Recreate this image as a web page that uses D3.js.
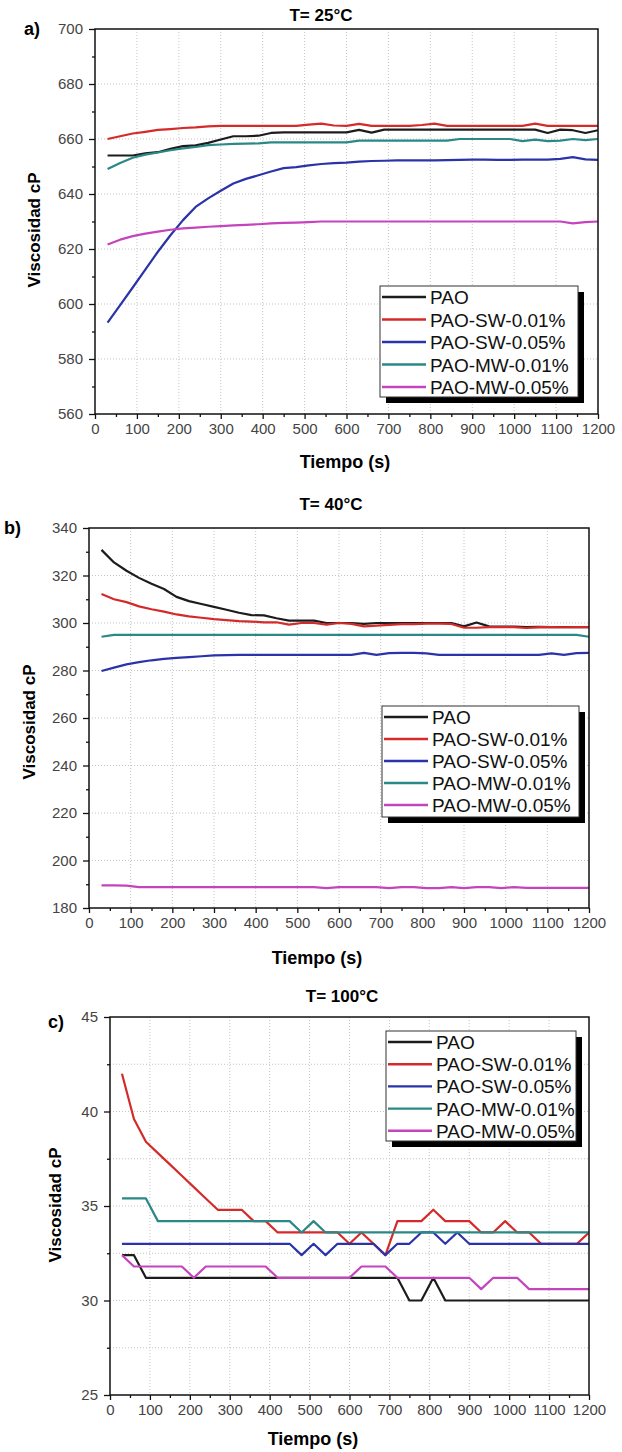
<!DOCTYPE html>
<html>
<head>
<meta charset="utf-8">
<script src="https://cdn.jsdelivr.net/npm/d3@7"></script>
<style>
  html, body { margin: 0; padding: 0; background: #fff; }
  svg { display: block; font-family: "Liberation Sans", Arial, sans-serif; }
</style>
</head>
<body>
<svg id="chart" width="622" height="1452"></svg>
<script>
// tiempo (s), muestreo cada 30 s
const tiempo = [30, 60, 90, 120, 150, 180, 210, 240, 270, 300,
  330, 360, 390, 420, 450, 480, 510, 540, 570, 600,
  630, 660, 690, 720, 750, 780, 810, 840, 870, 900,
  930, 960, 990, 1020, 1050, 1080, 1110, 1140, 1170, 1200];

const seriesNames = ['PAO', 'PAO-SW-0.01%', 'PAO-SW-0.05%', 'PAO-MW-0.01%', 'PAO-MW-0.05%'];
const seriesColors = ['#1c1c1c', '#d42a2a', '#2a33a8', '#2a8886', '#c444be'];
const xTicks = [0, 100, 200, 300, 400, 500, 600, 700, 800, 900, 1000, 1100, 1200];

// a) T = 25°C
const paoA = [654, 654, 654, 654.8, 655.2, 656.4, 657.4, 657.7, 658.6, 659.8,
  661, 661, 661.2, 662.2, 662.4, 662.4, 662.4, 662.4, 662.4, 662.4,
  663.3, 662.3, 663.4, 663.4, 663.4, 663.4, 663.4, 663.4, 663.4, 663.4,
  663.4, 663.4, 663.4, 663.4, 663.4, 662.2, 663.4, 663.2, 662.2, 663.2];
const sw01A = [660, 661, 662, 662.6, 663.3, 663.6, 664, 664.2, 664.6, 664.8,
  664.8, 664.8, 664.8, 664.8, 664.8, 664.8, 665.2, 665.6, 664.9, 664.8,
  665.5, 664.8, 664.8, 664.8, 664.8, 665.1, 665.6, 664.8, 664.8, 664.8,
  664.8, 664.8, 664.8, 664.8, 665.6, 664.8, 664.8, 664.8, 664.8, 664.8];
const sw05A = [593.2, 599.6, 606, 612.5, 619, 625, 630.5, 635.3, 638.4, 641.2,
  643.8, 645.5, 646.8, 648.2, 649.4, 649.8, 650.4, 650.9, 651.2, 651.4,
  651.8, 652, 652.1, 652.2, 652.2, 652.2, 652.2, 652.3, 652.4, 652.5,
  652.5, 652.4, 652.4, 652.5, 652.5, 652.5, 652.8, 653.4, 652.6, 652.4];
const mw01A = [649.1, 651.3, 653.2, 654.3, 655.1, 655.9, 656.6, 657.1, 657.8, 658,
  658.2, 658.3, 658.4, 658.8, 658.8, 658.8, 658.8, 658.8, 658.8, 658.8,
  659.4, 659.4, 659.4, 659.4, 659.4, 659.4, 659.4, 659.4, 660, 660,
  660, 660, 660, 659.2, 659.8, 659.2, 659.4, 660, 659.6, 660];
const mw05A = [621.6, 623.4, 624.7, 625.6, 626.3, 627, 627.5, 627.8, 628.1, 628.3,
  628.6, 628.8, 629, 629.3, 629.5, 629.6, 629.8, 630, 630, 630,
  630, 630, 630, 630, 630, 630, 630, 630, 630, 630,
  630, 630, 630, 630, 630, 630, 630, 629.3, 629.8, 630];
const yTicksA = [560, 580, 600, 620, 640, 660, 680, 700];

// b) T = 40°C
const paoB = [330.8, 325.5, 322, 319, 316.5, 314.3, 311, 309.2, 308, 306.8,
  305.6, 304.3, 303.3, 303.2, 302, 301, 301, 301, 300, 300,
  300, 299.6, 300, 300, 300, 300, 300, 300, 300, 298.6,
  300.2, 298.6, 298.5, 298.5, 298.3, 298.4, 298.3, 298.3, 298.3, 298.3];
const sw01B = [312.2, 310, 308.8, 307, 305.8, 304.8, 303.6, 302.8, 302.2, 301.6,
  301.2, 300.8, 300.6, 300.3, 300.3, 299.3, 300, 300, 299.3, 300,
  299.6, 298.6, 298.9, 299.2, 299.5, 299.5, 299.7, 299.7, 299.6, 298,
  298, 298.3, 298.3, 298.3, 297.9, 298.3, 298.3, 298.2, 298.3, 298.3];
const sw05B = [279.8, 281.2, 282.6, 283.5, 284.3, 284.9, 285.3, 285.6, 286, 286.4,
  286.5, 286.6, 286.6, 286.6, 286.6, 286.6, 286.6, 286.6, 286.6, 286.6,
  286.6, 287.4, 286.6, 287.3, 287.4, 287.4, 287.2, 286.6, 286.6, 286.6,
  286.6, 286.6, 286.6, 286.6, 286.6, 286.6, 287.2, 286.6, 287.3, 287.4];
const mw01B = [294.2, 295, 295, 295, 295, 295, 295, 295, 295, 295,
  295, 295, 295, 295, 295, 295, 295, 295, 295, 295,
  295, 295, 295, 295, 295, 295, 295, 295, 295, 295,
  295, 295, 295, 295, 295, 295, 295, 295, 295, 294.2];
const mw05B = [189.5, 189.5, 189.4, 188.8, 188.8, 188.8, 188.8, 188.8, 188.8, 188.8,
  188.8, 188.8, 188.8, 188.8, 188.8, 188.8, 188.8, 188.8, 188.4, 188.8,
  188.8, 188.8, 188.8, 188.4, 188.8, 188.8, 188.4, 188.4, 188.8, 188.4,
  188.8, 188.8, 188.4, 188.8, 188.5, 188.5, 188.5, 188.5, 188.5, 188.5];
const yTicksB = [180, 200, 220, 240, 260, 280, 300, 320, 340];

// c) T = 100°C
const paoC = [32.4, 32.4, 31.2, 31.2, 31.2, 31.2, 31.2, 31.2, 31.2, 31.2,
  31.2, 31.2, 31.2, 31.2, 31.2, 31.2, 31.2, 31.2, 31.2, 31.2,
  31.2, 31.2, 31.2, 31.2, 30, 30, 31.2, 30, 30, 30,
  30, 30, 30, 30, 30, 30, 30, 30, 30, 30];
const sw01C = [42, 39.6, 38.4, 37.8, 37.2, 36.6, 36, 35.4, 34.8, 34.8,
  34.8, 34.2, 34.2, 33.6, 33.6, 33.6, 33.6, 33.6, 33.6, 33,
  33.6, 33, 32.4, 34.2, 34.2, 34.2, 34.8, 34.2, 34.2, 34.2,
  33.6, 33.6, 34.2, 33.6, 33.6, 33, 33, 33, 33, 33.6];
const sw05C = [33, 33, 33, 33, 33, 33, 33, 33, 33, 33,
  33, 33, 33, 33, 33, 32.4, 33, 32.4, 33, 33,
  33, 33, 32.4, 33, 33, 33.6, 33.6, 33, 33.6, 33,
  33, 33, 33, 33, 33, 33, 33, 33, 33, 33];
const mw01C = [35.4, 35.4, 35.4, 34.2, 34.2, 34.2, 34.2, 34.2, 34.2, 34.2,
  34.2, 34.2, 34.2, 34.2, 34.2, 33.6, 34.2, 33.6, 33.6, 33.6,
  33.6, 33.6, 33.6, 33.6, 33.6, 33.6, 33.6, 33.6, 33.6, 33.6,
  33.6, 33.6, 33.6, 33.6, 33.6, 33.6, 33.6, 33.6, 33.6, 33.6];
const mw05C = [32.4, 31.8, 31.8, 31.8, 31.8, 31.8, 31.2, 31.8, 31.8, 31.8,
  31.8, 31.8, 31.8, 31.2, 31.2, 31.2, 31.2, 31.2, 31.2, 31.2,
  31.8, 31.8, 31.8, 31.2, 31.2, 31.2, 31.2, 31.2, 31.2, 31.2,
  30.6, 31.2, 31.2, 31.2, 30.6, 30.6, 30.6, 30.6, 30.6, 30.6];
const yTicksC = [25, 30, 35, 40, 45];

const svg = d3.select('#chart');
svg.append('rect').attr('width', 622).attr('height', 1452).attr('fill', '#fff');

// one panel
const drawPanel = (p) => {
    const x = d3.scaleLinear().domain([0, 1200]).range([p.left, p.right]);
    const y = d3.scaleLinear().domain([p.yTicks[0], p.yTicks[p.yTicks.length - 1]]).range([p.bottom, p.top]);
    const g = svg.append('g');

    // rejilla punteada
    const grid = g.append('g').attr('stroke', '#c4c4c4').attr('stroke-width', 1).attr('stroke-dasharray', '1,2');
    xTicks.slice(1, -1).forEach((t) => {
        grid.append('line').attr('x1', x(t)).attr('x2', x(t)).attr('y1', p.top).attr('y2', p.bottom);
    });
    p.yGrid.forEach((t) => {
        grid.append('line').attr('x1', p.left).attr('x2', p.right).attr('y1', y(t)).attr('y2', y(t));
    });

    // curvas
    const clipId = 'clip-' + p.id;
    g.append('clipPath').attr('id', clipId)
        .append('rect').attr('x', p.left).attr('y', p.top)
        .attr('width', p.right - p.left).attr('height', p.bottom - p.top);
    const line = d3.line().x((d, i) => x(tiempo[i])).y((d) => y(d));
    g.append('g').attr('clip-path', 'url(#' + clipId + ')')
        .selectAll('path').data(p.series).join('path')
        .attr('d', (d) => line(d))
        .attr('fill', 'none')
        .attr('stroke', (d, i) => seriesColors[i])
        .attr('stroke-width', 2.2)
        .attr('stroke-linejoin', 'round');

    // ejes
    const xAxis = g.append('g').attr('transform', 'translate(0,' + p.bottom + ')')
        .call(d3.axisBottom(x).tickValues(xTicks).tickFormat(d3.format('d'))
            .tickSize(5).tickPadding(4).tickSizeOuter(0));
    g.append('g').attr('transform', 'translate(0,' + p.bottom + ')')
        .call(d3.axisBottom(x).tickValues(xTicks.slice(0, -1).map((t) => t + 50)).tickSize(3).tickFormat('').tickSizeOuter(0));
    const yAxis = g.append('g').attr('transform', 'translate(' + p.left + ',0)')
        .call(d3.axisLeft(y).tickValues(p.yTicks).tickFormat(d3.format('d'))
            .tickSize(6).tickPadding(6).tickSizeOuter(0));
    g.append('g').attr('transform', 'translate(' + p.left + ',0)')
        .call(d3.axisLeft(y).tickValues(p.yMinor).tickSize(3).tickFormat('').tickSizeOuter(0));
    g.selectAll('.domain').remove();
    g.selectAll('.tick line').attr('stroke', '#111').attr('stroke-width', 1.3);
    [xAxis, yAxis].forEach((a) => a.selectAll('text')
        .attr('fill', '#444').style('font-size', '15px').style('font-family', '"Liberation Sans", Arial, sans-serif'));

    g.append('rect').attr('x', p.left).attr('y', p.top)
        .attr('width', p.right - p.left).attr('height', p.bottom - p.top)
        .attr('fill', 'none').attr('stroke', '#111').attr('stroke-width', 1.5);

    // textos
    g.append('text').attr('x', p.titleX).attr('y', p.titleY).attr('text-anchor', 'middle')
        .attr('font-weight', 'bold').attr('font-size', 17).text(p.title);
    g.append('text').attr('x', p.tagX).attr('y', p.tagY)
        .attr('font-weight', 'bold').attr('font-size', 18).text(p.tag);
    g.append('text').attr('x', p.xLabelX).attr('y', p.xLabelY).attr('text-anchor', 'middle')
        .attr('font-weight', 'bold').attr('font-size', 18).text('Tiempo (s)');
    g.append('text').attr('transform', 'translate(' + p.yLabelX + ',' + p.yLabelY + ') rotate(-90)')
        .attr('text-anchor', 'middle').attr('font-weight', 'bold').attr('font-size', 17).text('Viscosidad cP');

    // leyenda
    const lg = g.append('g').attr('transform', 'translate(' + p.legX + ',' + p.legY + ')');
    lg.append('rect').attr('x', 6).attr('y', 6).attr('width', p.legW).attr('height', p.legH).attr('fill', '#000');
    lg.append('rect').attr('width', p.legW).attr('height', p.legH).attr('fill', '#fff')
        .attr('stroke', '#333').attr('stroke-width', 1);
    const rows = lg.selectAll('g.row').data(seriesNames).join('g').attr('class', 'row')
        .attr('transform', (d, i) => 'translate(0,' + (11 + i * p.legStep) + ')');
    rows.append('line').attr('x1', 2).attr('x2', 46).attr('y1', 0).attr('y2', 0)
        .attr('stroke', (d, i) => seriesColors[i]).attr('stroke-width', 2.4);
    rows.append('text').attr('x', 50).attr('y', 7).attr('font-size', 19).attr('fill', '#111').text((d) => d);
};

drawPanel({
    id: 'a', title: 'T= 25°C', tag: 'a)',
    left: 95, right: 598, top: 29, bottom: 414,
    yTicks: yTicksA, yGrid: [580, 600, 620, 640, 660, 680],
    yMinor: [570, 590, 610, 630, 650, 670, 690],
    series: [paoA, sw01A, sw05A, mw01A, mw05A],
    titleX: 321, titleY: 21, tagX: 24, tagY: 35,
    xLabelX: 345, xLabelY: 468, yLabelX: 40, yLabelY: 230,
    legX: 380, legY: 286, legW: 198, legH: 111, legStep: 22.5
});
drawPanel({
    id: 'b', title: 'T= 40°C', tag: 'b)',
    left: 89, right: 589, top: 528, bottom: 908,
    yTicks: yTicksB, yGrid: [200, 220, 240, 260, 280, 300, 320],
    yMinor: [190, 210, 230, 250, 270, 290, 310, 330],
    series: [paoB, sw01B, sw05B, mw01B, mw05B],
    titleX: 331, titleY: 510, tagX: 4, tagY: 534,
    xLabelX: 317, xLabelY: 964, yLabelX: 35, yLabelY: 722,
    legX: 382, legY: 706, legW: 197, legH: 111, legStep: 22
});
drawPanel({
    id: 'c', title: 'T= 100°C', tag: 'c)',
    left: 110, right: 589, top: 1017, bottom: 1395,
    yTicks: yTicksC, yGrid: [27.5, 30, 32.5, 35, 37.5, 40, 42.5],
    yMinor: [27.5, 32.5, 37.5, 42.5],
    series: [paoC, sw01C, sw05C, mw01C, mw05C],
    titleX: 342, titleY: 1002, tagX: 48, tagY: 1028,
    xLabelX: 313, xLabelY: 1445, yLabelX: 61, yLabelY: 1205,
    legX: 386, legY: 1031, legW: 190, legH: 110, legStep: 22.2
});
</script>
</body>
</html>
